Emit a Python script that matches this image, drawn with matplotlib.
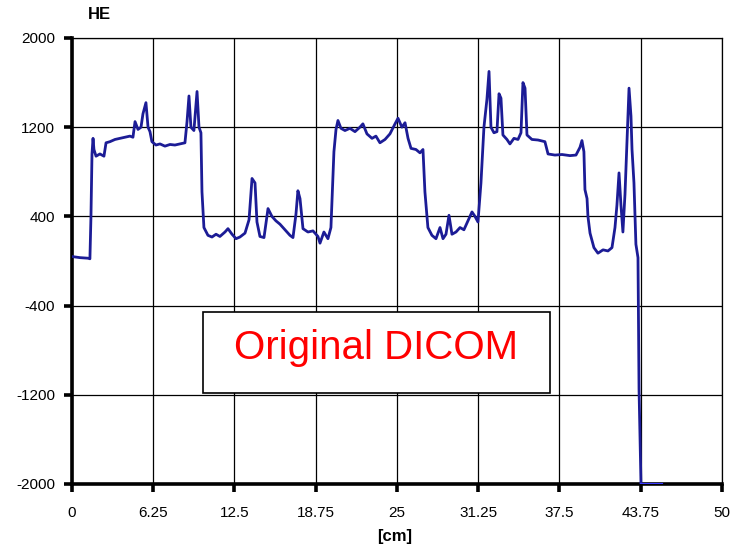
import matplotlib
matplotlib.use("Agg")
import numpy as np
from matplotlib import pyplot as plt
from matplotlib.patches import Rectangle

# profile: position [cm] and value [HE]
pos_cm = [0.0, 0.62, 1.23, 1.38, 1.46, 1.54, 1.62, 1.69, 1.85, 2.15, 2.46, 2.62, 2.92, 3.31,
          3.69, 4.08, 4.46, 4.69, 4.85, 5.08, 5.31, 5.46, 5.69, 5.85, 6.0, 6.15, 6.46, 6.77,
          7.15, 7.54, 7.92, 8.31, 8.69, 8.85, 9.0, 9.15, 9.38, 9.62, 9.77, 9.92, 10.0, 10.15,
          10.46, 10.77, 11.08, 11.38, 11.77, 12.0, 12.31, 12.62, 12.92, 13.31, 13.62, 13.85,
          14.08, 14.23, 14.46, 14.77, 15.08, 15.38, 15.69, 16.0, 16.38, 16.77, 17.0, 17.23,
          17.38, 17.54, 17.77, 18.15, 18.54, 18.92, 19.08, 19.38, 19.69, 19.92, 20.15, 20.31,
          20.46, 20.69, 21.0, 21.38, 21.77, 22.15, 22.38, 22.69, 23.08, 23.38, 23.69, 24.08,
          24.46, 24.85, 25.08, 25.38, 25.62, 25.85, 26.08, 26.46, 26.77, 27.0, 27.15, 27.38,
          27.69, 28.0, 28.31, 28.54, 28.77, 29.0, 29.23, 29.54, 29.85, 30.15, 30.46, 30.77,
          31.0, 31.23, 31.46, 31.69, 31.92, 32.08, 32.23, 32.46, 32.69, 32.85, 33.0, 33.15,
          33.46, 33.69, 34.0, 34.31, 34.54, 34.69, 34.85, 35.0, 35.38, 35.85, 36.38, 36.62,
          37.15, 37.69, 38.31, 38.77, 39.08, 39.23, 39.38, 39.46, 39.62, 39.69, 39.85, 40.15,
          40.46, 40.85, 41.23, 41.54, 41.77, 41.92, 42.08, 42.23, 42.38, 42.54, 42.69, 42.85,
          43.0, 43.08, 43.23, 43.38, 43.54, 43.62, 43.77]
hu = [40, 30, 25, 20, 400, 960, 1100, 1000, 940, 960, 940, 1060, 1070, 1090,
      1100, 1110, 1120, 1110, 1250, 1180, 1200, 1320, 1420, 1200, 1160, 1070, 1040, 1050,
      1030, 1045, 1040, 1050, 1060, 1250, 1480, 1200, 1170, 1520, 1200, 1150, 620, 300,
      230, 215, 240, 220, 260, 290, 240, 200, 215, 250, 370, 740,
      700, 350, 220, 210, 470, 400, 360, 330, 280, 230, 210, 420,
      630, 560, 290, 260, 270, 220, 160, 260, 200, 300, 980, 1180,
      1260, 1190, 1170, 1190, 1160, 1200, 1230, 1140, 1100, 1120, 1060, 1090,
      1140, 1230, 1280, 1200, 1240, 1100, 1010, 1000, 970, 1000, 620, 300,
      230, 200, 300, 200, 240, 410, 240, 260, 300, 280, 360, 440,
      400, 350, 700, 1200, 1450, 1700, 1200, 1150, 1160, 1500, 1460, 1130,
      1090, 1050, 1100, 1090, 1150, 1600, 1550, 1130, 1090, 1085, 1070, 960,
      950, 955, 945, 950, 1020, 1080, 980, 640, 560, 400, 250, 120,
      70, 100, 90, 120, 300, 500, 790, 500, 260, 600, 1050, 1550,
      1300, 1000, 700, 150, 30, -1150, -2000]
# tail sitting at the lower limit
tail_cm = [43.77, 45.38]
tail_hu = [-2000, -2000]

x_ticks = [0, 6.25, 12.5, 18.75, 25, 31.25, 37.5, 43.75, 50]
x_labels = ["0", "6.25", "12.5", "18.75", "25", "31.25", "37.5", "43.75", "50"]
y_ticks = [-2000, -1200, -400, 400, 1200, 2000]

plt.rcParams['font.family'] = ['Liberation Sans', 'DejaVu Sans']
plt.rcParams['axes.unicode_minus'] = False

fig = plt.figure(figsize=(7.3, 5.49), dpi=100)
ax = fig.add_axes([0.0986, 0.1184, 0.8904, 0.8124])

ax.plot(pos_cm, hu, color='#1c1c96', linewidth=2.0, zorder=3)
ax.plot(tail_cm, tail_hu, color='#3a3aff', linewidth=1.6, zorder=3)

ax.set_xlim(0, 50)
ax.set_ylim(-2000, 2000)
ax.set_xticks(x_ticks)
ax.set_xticklabels(x_labels)
ax.set_yticks(y_ticks)
ax.grid(True, color='black', linewidth=0.9)
ax.set_axisbelow(True)

for side in ['left', 'bottom']:
    ax.spines[side].set_linewidth(2.6)
for side in ['top', 'right']:
    ax.spines[side].set_linewidth(0.9)
ax.tick_params(axis='both', direction='out', length=6, width=2.6, labelsize=11,
               colors='black')
ax.tick_params(axis='x', pad=10)
ax.tick_params(axis='y', pad=6)

fig.text(0.12, 0.973, "HE", fontsize=12, fontweight='bold', ha='left', va='center')
fig.text(0.541, 0.022, "[cm]", fontsize=12, fontweight='bold', ha='center', va='center')

# label box inside the plot
ax.add_patch(Rectangle((0.2015, 0.204), 0.534, 0.1817, transform=ax.transAxes,
                       facecolor='white', edgecolor='black', linewidth=1.2, zorder=4))
ax.text(0.4685, 0.305, "Original DICOM", transform=ax.transAxes, color='red',
        fontsize=29, ha='center', va='center', zorder=5)

plt.savefig("out.png", dpi=100)
